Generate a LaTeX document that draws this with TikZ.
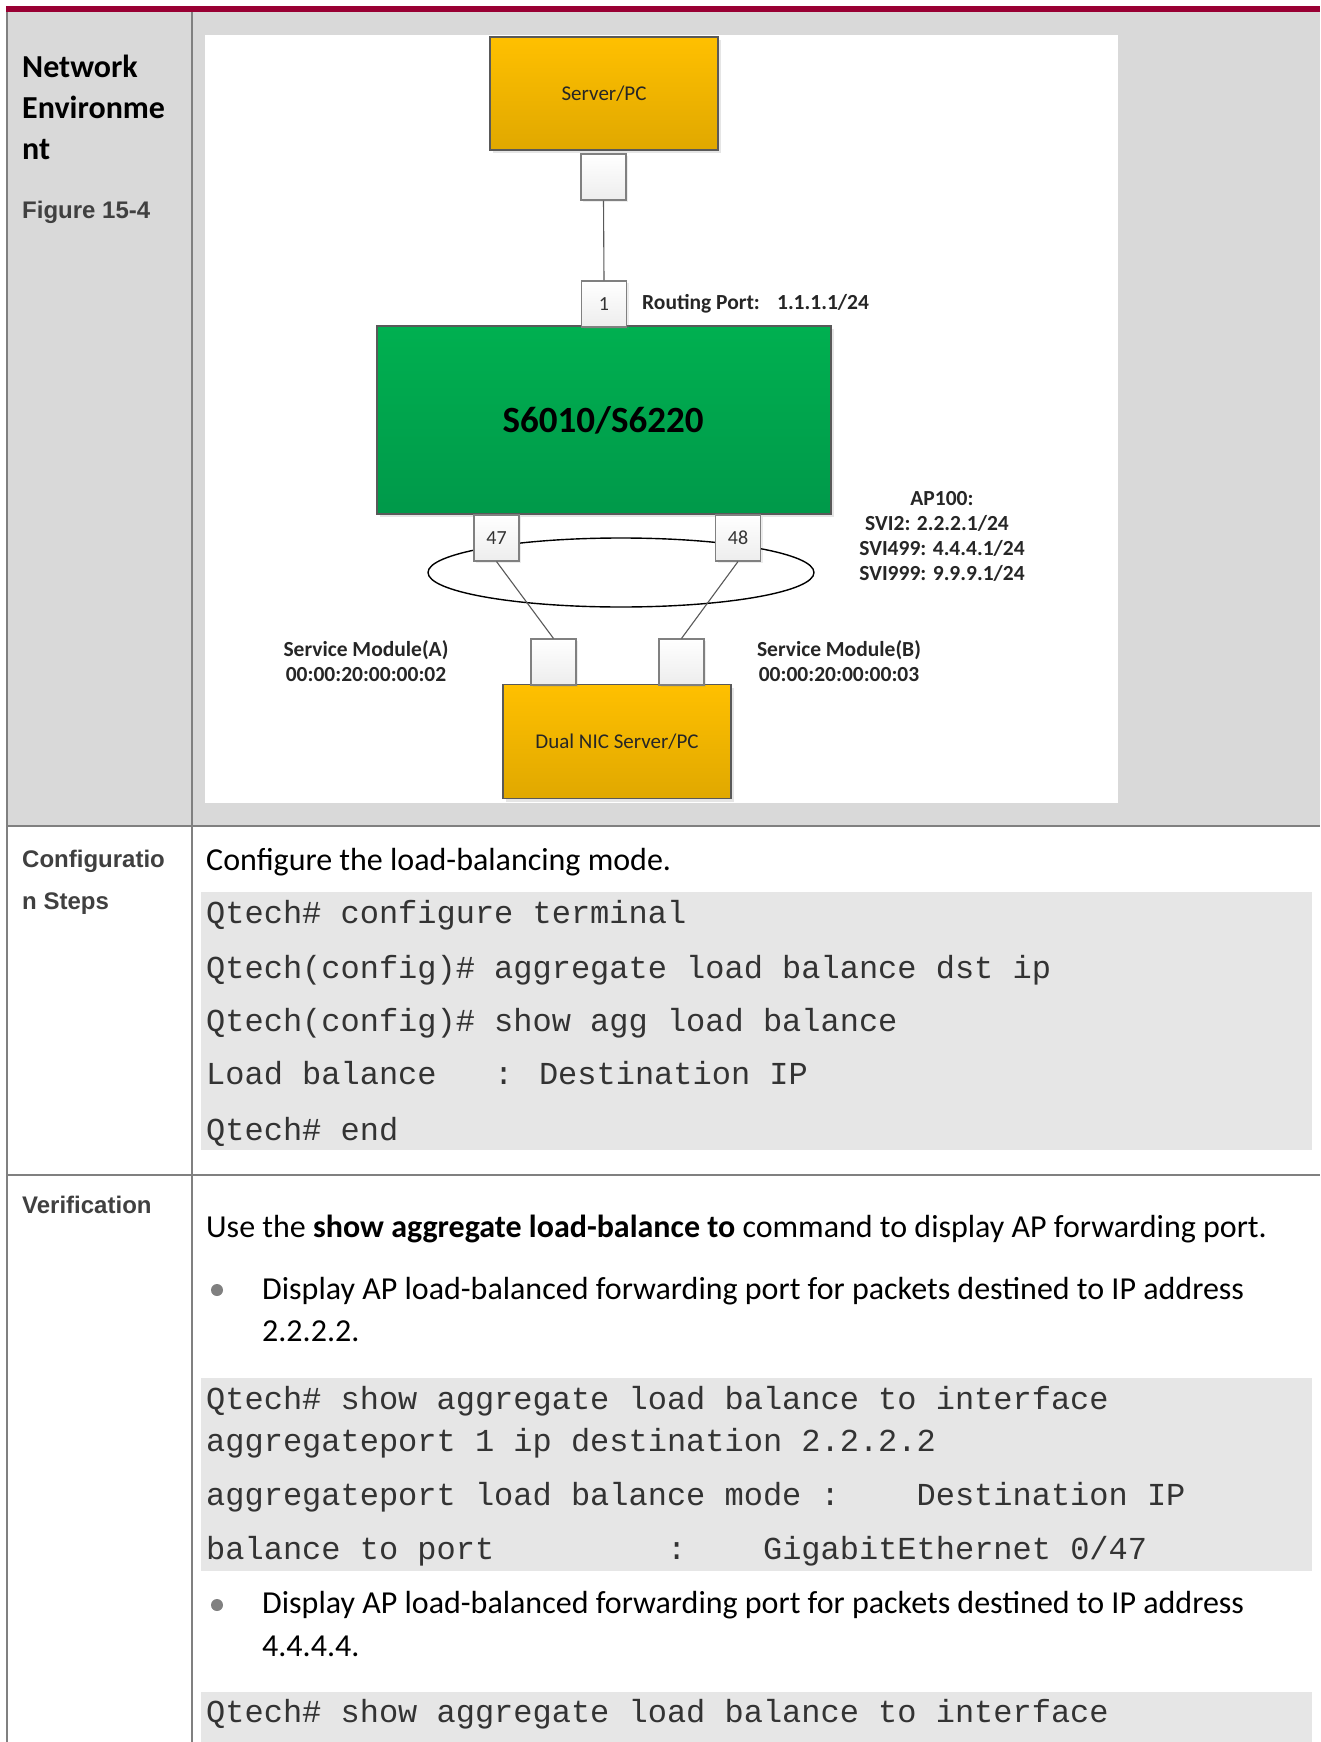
\documentclass[tikz,border=0pt]{standalone}
\usepackage{fontspec}
\setmainfont{Carlito}
\newfontfamily\arialf{Liberation Sans}
\newfontfamily\monof{Liberation Mono}
\usetikzlibrary{shapes.geometric,shadows}
\definecolor{tabgrey}{HTML}{D9D9D9}
\definecolor{codegrey}{HTML}{E6E6E6}
\definecolor{rulegrey}{HTML}{808080}
\definecolor{topred}{HTML}{990033}
\definecolor{orangeT}{HTML}{FFC000}
\definecolor{orangeB}{HTML}{E0A800}
\definecolor{greenT}{HTML}{00B050}
\definecolor{greenB}{HTML}{00994A}
\definecolor{labelgrey}{HTML}{404040}
\begin{document}
\begin{tikzpicture}[x=1pt,y=-1pt,
  tabrule/.style={draw=rulegrey, line width=2pt},
  leftlbl/.style={font=\arialf\bfseries\fontsize{24}{28}\selectfont, text=labelgrey, anchor=base west, inner sep=0},
  netlbl/.style={font=\bfseries\fontsize{32}{41}\selectfont, text=black, anchor=base west, inner sep=0},
  body/.style={font=\fontsize{32}{40}\selectfont, text=black, anchor=base west, inner sep=0},
  codeline/.style={font=\monof\fontsize{32}{40}\selectfont, text=black!80, anchor=base west, inner sep=0},
  dotmark/.style={circle, fill=black!50, inner sep=0, minimum size=12pt},
  devbox/.style={draw=black!65, line width=1.3pt, top color=orangeT, bottom color=orangeB,
    drop shadow={shadow xshift=3pt, shadow yshift=-3pt, opacity=0.2},
    font=\fontsize{21}{25}\selectfont, text=black!85, inner sep=0},
  swbox/.style={draw=black!65, line width=1.3pt, top color=greenT, bottom color=greenB,
    drop shadow={shadow xshift=3pt, shadow yshift=-3pt, opacity=0.2},
    inner sep=0, minimum width=454pt, minimum height=188pt},
  portbox/.style={draw=rulegrey, line width=1.1pt, top color=white, bottom color=black!7,
    drop shadow={shadow xshift=2pt, shadow yshift=-2pt, opacity=0.15},
    minimum width=45pt, minimum height=46pt, inner sep=0,
    font=\fontsize{20}{22}\selectfont, text=black!80},
  lbl/.style={font=\bfseries\fontsize{21.5}{25}\selectfont, text=black!85, inner sep=0},
  wire/.style={draw=black!65, line width=1.1pt}
]
\useasboundingbox (0,0) rectangle (1320,1742);
\fill[white] (0,0) rectangle (1320,1742);
% table backgrounds
\fill[tabgrey] (7,12) rectangle (1320,826);
\fill[topred] (6,6) rectangle (1320,12);
\fill[white] (205,35) rectangle (1118,803);
\fill[codegrey] (201,892) rectangle (1312,1150);
\fill[codegrey] (201,1378) rectangle (1312,1571);
\fill[codegrey] (201,1692) rectangle (1312,1742);
% table rules
\draw[tabrule] (7,12) -- (7,1742);
\draw[tabrule] (192,12) -- (192,1742);
\draw[tabrule] (7,826) -- (1320,826);
\draw[tabrule] (7,1175) -- (1320,1175);

% left column labels
\node[netlbl] (ne1) at (22,78) {Network};
\node[netlbl] (ne2) at (22,119) {Environme};
\node[netlbl] (ne3) at (22,160) {nt};
\node[leftlbl] (fig) at (22,218) {Figure 15-4};
\node[leftlbl] (cs1) at (22,867) {Configuratio};
\node[leftlbl] (cs2) at (22,909) {n Steps};
\node[leftlbl] (ver) at (22,1213) {Verification};

% ---------- figure ----------
\node[draw=black, line width=1.4pt, ellipse, minimum width=386pt, minimum height=69pt, inner sep=0] (lag) at (621,572.5) {};
\node[devbox, minimum width=228pt, minimum height=113pt] (server) at (604,93.5) {Server/PC};
\node[portbox] (sp) at (603.5,177) {};
\node[swbox] (sw) at (604,420) {};
\node[font=\bfseries\fontsize{37}{40}\selectfont, text=black, anchor=base, inner sep=0] (swname) at (603,432) {S6010/S6220};
\node[portbox] (p1) at (604,304) {1};
\node[portbox] (p47) at (496.5,538) {47};
\node[portbox] (p48) at (738,538) {48};
\node[devbox, minimum width=228pt, minimum height=114pt] (nic) at (617,741.5) {Dual NIC Server/PC};
\node[portbox] (na) at (553.5,662) {};
\node[portbox] (nb) at (681.5,662) {};

\draw[wire] (sp.south) -- (p1.north);
\draw[wire] (p47.south) -- (na.north);
\draw[wire] (p48.south) -- (nb.north);

\node[lbl, anchor=base west] (rp) at (642,309) {Routing Port:\hspace{0.8em}1.1.1.1/24};
\node[lbl, anchor=base] (ap0) at (942,505) {AP100:};
\node[lbl, anchor=base] (ap1) at (937,530) {SVI2: 2.2.2.1/24};
\node[lbl, anchor=base] (ap2) at (942,555) {SVI499: 4.4.4.1/24};
\node[lbl, anchor=base] (ap3) at (942,580) {SVI999: 9.9.9.1/24};
\node[lbl, anchor=base] (sma1) at (366,656) {Service Module(A)};
\node[lbl, anchor=base] (sma2) at (366,681) {00:00:20:00:00:02};
\node[lbl, anchor=base] (smb1) at (839,656) {Service Module(B)};
\node[lbl, anchor=base] (smb2) at (839,681) {00:00:20:00:00:03};

% ---------- row 2 ----------
\node[body] (cfgtxt) at (206,870) {Configure the load-balancing mode.};
\node[codeline] (c1) at (206,923) {Qtech\# configure terminal};
\node[codeline] (c2) at (206,978) {Qtech(config)\# aggregate load balance dst ip};
\node[codeline] (c3) at (206,1031) {Qtech(config)\# show agg load balance};
\node[codeline] (c4) at (206,1084) {Load balance~~~: Destination IP};
\node[codeline] (c5) at (206,1140) {Qtech\# end};

% ---------- row 3 ----------
\node[body] (usetxt) at (206,1237) {Use the \textbf{show aggregate load-balance to} command to display AP forwarding port.};
\node[dotmark] (b1) at (217,1290) {};
\node[body] (b1a) at (262,1299) {Display AP load-balanced forwarding port for packets destined to IP address};
\node[body] (b1b) at (262,1341) {2.2.2.2.};
\node[codeline] (d1) at (206,1409) {Qtech\# show aggregate load balance to interface};
\node[codeline] (d2) at (206,1451) {aggregateport 1 ip destination 2.2.2.2};
\node[codeline] (d3) at (206,1505) {aggregateport load balance mode :~~~~Destination IP};
\node[codeline] (d4) at (206,1559) {balance to port~~~~~~~~~:~~~~GigabitEthernet 0/47};
\node[dotmark] (b2) at (217,1605) {};
\node[body] (b2a) at (262,1613) {Display AP load-balanced forwarding port for packets destined to IP address};
\node[body] (b2b) at (262,1656) {4.4.4.4.};
\node[codeline] (e1) at (206,1722) {Qtech\# show aggregate load balance to interface};
\end{tikzpicture}
\end{document}
